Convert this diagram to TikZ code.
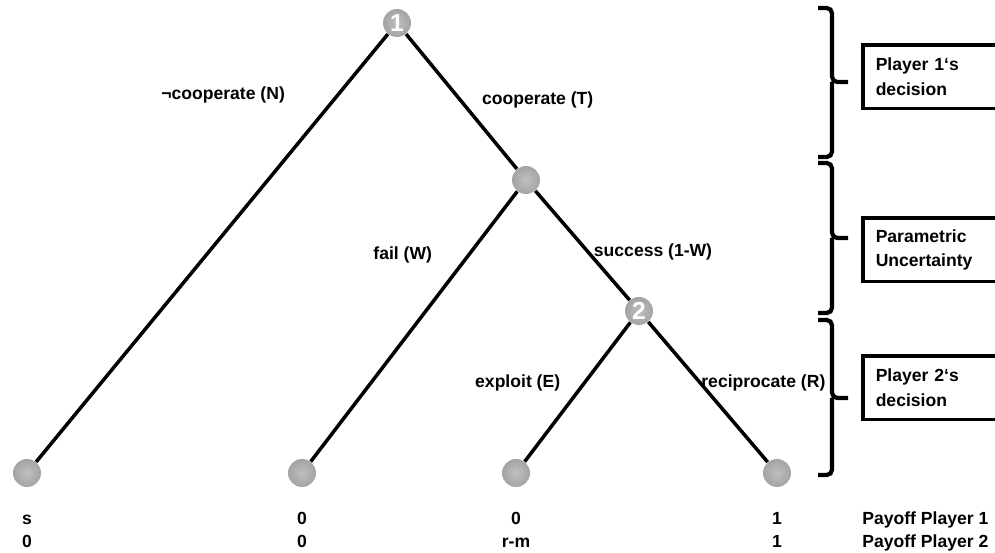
\documentclass[tikz,border=0pt]{standalone}
\usepackage{fontspec}
\setmainfont{Liberation Sans}
\tikzstyle{vertex}=[circle,shading=radial,inner color=gray!50,outer color=gray!72,minimum size=0.56cm,inner sep=0pt,text=white,font=\fontsize{14}{14}\selectfont\bfseries]
\tikzstyle{branch}=[line width=2pt]
\tikzstyle{move}=[inner sep=0pt,text height=1.6ex,text depth=0.4ex,font=\fontsize{10}{12}\selectfont\bfseries]
\tikzstyle{phase}=[draw,line width=2pt,anchor=north west,minimum height=1.28cm,text width=2.9cm,inner xsep=0.26cm,inner ysep=0pt,align=left,font=\fontsize{10}{13.7}\selectfont\bfseries]
\tikzstyle{bracket}=[line width=2.4pt,rounded corners=3pt]

\begin{document}
\begin{tikzpicture}[x=0.02cm,y=-0.02cm]
\useasboundingbox (0,0) rectangle (995,553);
\clip (0,0) rectangle (995,553);
\node[vertex] at (397, 23) (p1) {1};
\node[vertex] at (526, 180) (nat) {};
\node[vertex] at (639, 311) (p2) {2};
\node[vertex] at (27, 473) (tN) {};
\node[vertex] at (302, 473) (tW) {};
\node[vertex] at (516, 473) (tE) {};
\node[vertex] at (777, 473) (tR) {};
\draw[branch] (p1) edge node[move,pos=.14,anchor=east,xshift=-1.04cm] {¬cooperate (N)} (tN);
\draw[branch] (p1) edge node[move,pos=.48,anchor=west,xshift=0.42cm] {cooperate (T)} (nat);
\draw[branch] (nat) edge node[move,pos=.23,anchor=east,xshift=-0.72cm] {fail (W)} (tW);
\draw[branch] (nat) edge node[move,pos=.55,anchor=west,xshift=0.1cm] {success (1-W)} (p2);
\draw[branch] (p2) edge node[move,pos=.43,anchor=east,xshift=-0.46cm] {exploit (E)} (tE);
\draw[branch] (p2) edge node[move,pos=.43,anchor=west,xshift=0cm] {reciprocate (R)} (tR);
% payoffs
\node[move] at (27, 519) (sN1) {s};
\node[move] at (27, 542) (sN2) {0};
\node[move] at (302, 519) (sW1) {0};
\node[move] at (302, 542) (sW2) {0};
\node[move] at (516, 519) (sE1) {0};
\node[move] at (516, 542) (sE2) {r-m};
\node[move] at (777, 519) (sR1) {1};
\node[move] at (777, 542) (sR2) {1};
\node[move,anchor=west] at (862, 519) (pay1) {Payoff Player 1};
\node[move,anchor=west] at (862, 542) (pay2) {Payoff Player 2};
% stages
\draw[bracket] (818,8) -| (832,82) -- (848,82) (832,82) |- (818,157);
\draw[bracket] (818,163) -| (832,238) -- (848,238) (832,238) |- (818,313);
\draw[bracket] (818,320) -| (832,398) -- (848,398) (832,398) |- (818,475);
\node[phase] at (861, 43) (st1) {Player 1‘s\\decision};
\node[phase] at (861, 216) (st2) {Parametric\\Uncertainty};
\node[phase] at (861, 354) (st3) {Player 2‘s\\decision};
\end{tikzpicture}
\end{document}
